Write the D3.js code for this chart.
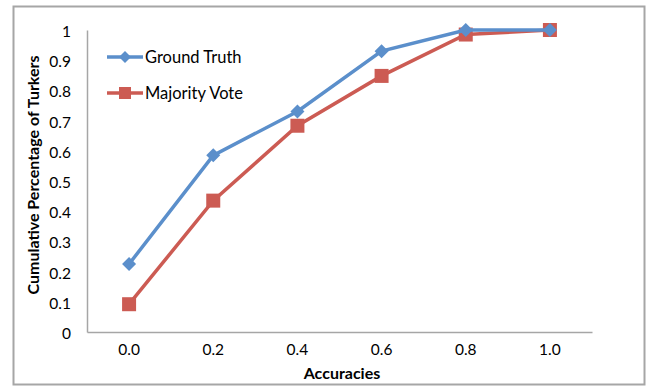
<!DOCTYPE html>
<html><head><meta charset="utf-8">
<script src="https://cdn.jsdelivr.net/npm/d3@7"></script>
<style>body{margin:0;background:#fff;} svg{display:block;}</style>
</head><body>
<svg id="c" width="648" height="388"></svg>
<script>
const categories = ["0.0","0.2","0.4","0.6","0.8","1.0"];
const groundTruth = [0.225, 0.585, 0.73, 0.93, 1.0, 1.0];
const majorityVote = [0.092, 0.435, 0.683, 0.848, 0.985, 1.0];
const yTicks = [0,0.1,0.2,0.3,0.4,0.5,0.6,0.7,0.8,0.9,1];
const yTickLabels = ["0","0.1","0.2","0.3","0.4","0.5","0.6","0.7","0.8","0.9","1"];
const seriesNames = ["Ground Truth","Majority Vote"];

(function(){
const FONT = "Lato, 'Noto Sans', sans-serif";
const blue = "#5B8FCB", red = "#CC5B53";
const svg = d3.select("#c");

svg.append("rect").attr("x",13.5).attr("y",6.5).attr("width",631).attr("height",378)
  .attr("fill","#fff").attr("stroke","#a6a6a6").attr("stroke-width",2);

const pl=87, pr=592, pt=30, pb=332;
const x = d3.scaleBand().domain(categories).range([pl,pr]);
const y = d3.scaleLinear().domain([0,1]).range([pb,pt]);

const yAxis = svg.append("g").attr("transform",`translate(${pl},0)`)
  .call(d3.axisLeft(y).tickValues(yTicks).tickFormat((d,i)=>yTickLabels[i]).tickSize(0).tickPadding(16));
yAxis.select(".domain").attr("stroke","#a6a6a6").attr("stroke-width",1.5);
yAxis.selectAll("text").attr("font-family",FONT).attr("font-size",15.5).attr("fill","#000").attr("dy","0.42em");

const xAxis = svg.append("g").attr("transform",`translate(0,${pb})`)
  .call(d3.axisBottom(x).tickSize(0).tickPadding(12));
xAxis.select(".domain").attr("stroke","#a6a6a6").attr("stroke-width",1.5);
xAxis.selectAll("text").attr("font-family",FONT).attr("font-size",15.5).attr("fill","#000");

svg.append("text").attr("x",342).attr("y",379).attr("text-anchor","middle")
  .attr("font-family",FONT).attr("font-weight","bold").attr("font-size",16).text("Accuracies");
svg.append("text").attr("transform","translate(39,175) rotate(-90)").attr("text-anchor","middle")
  .attr("font-family",FONT).attr("font-weight","bold").attr("font-size",16).text("Cumulative Percentage of Turkers");

const cx = d => x(d) + x.bandwidth()/2;
const line = d3.line().x((d,i)=>cx(categories[i])).y(d=>y(d));

function diamond(g, px, py, s){
  g.append("path").attr("d",`M${px},${py-s}L${px+s},${py}L${px},${py+s}L${px-s},${py}Z`).attr("fill",blue);
}
function square(g, px, py, s){
  g.append("rect").attr("x",px-s).attr("y",py-s).attr("width",2*s).attr("height",2*s).attr("fill",red);
}

svg.append("path").datum(majorityVote).attr("d",line).attr("fill","none").attr("stroke",red).attr("stroke-width",3.5);
const gr = svg.append("g");
majorityVote.forEach((v,i)=>square(gr,cx(categories[i]),y(v),7));
svg.append("path").datum(groundTruth).attr("d",line).attr("fill","none").attr("stroke",blue).attr("stroke-width",3.5);
const gb = svg.append("g");
groundTruth.forEach((v,i)=>diamond(gb,cx(categories[i]),y(v),7));

const lg = svg.append("g");
const legY = [57, 93];
[blue, red].forEach((c,i)=>{
  lg.append("line").attr("x1",107).attr("x2",143).attr("y1",legY[i]).attr("y2",legY[i]).attr("stroke",c).attr("stroke-width",3.5);
  if(i===0) diamond(lg,125,legY[i],6); else square(lg,125,legY[i],6);
  lg.append("text").attr("x",145).attr("y",legY[i]).attr("dy","0.35em").attr("font-family",FONT).attr("font-size",16.5).text(seriesNames[i]);
});
})();
</script>
</body></html>
